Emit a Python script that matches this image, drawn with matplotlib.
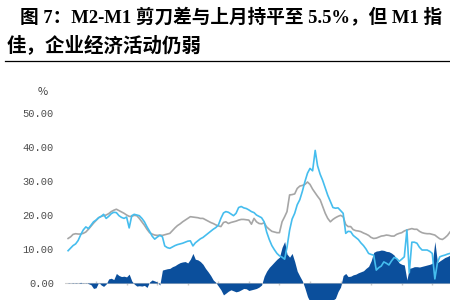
import matplotlib
matplotlib.use("Agg")
import matplotlib.pyplot as plt
import pandas as pd

# monthly, Jan 2002 onward (figure is cropped on the right)
months = pd.date_range("2002-01-01", periods=151, freq="MS")

m2_yoy = [
    13.1, 13.6, 14.3, 14.5, 14.4, 14.4, 14.6, 15.0, 15.8, 16.7,
    17.6, 18.4, 19.2, 19.6, 19.8, 20.0, 20.4, 21.0, 21.4, 21.7,
    21.3, 20.9, 20.5, 20.0, 19.6, 19.6, 19.9, 19.8, 19.0, 18.0,
    17.0, 15.8, 14.8, 14.4, 14.1, 14.0, 14.1, 14.0, 14.2, 14.4,
    14.6, 15.4, 16.2, 16.9, 17.4, 18.0, 18.5, 19.0, 19.5, 19.4,
    19.3, 19.2, 19.0, 19.0, 18.6, 18.2, 17.8, 17.5, 17.1, 16.8,
    16.6, 17.8, 18.0, 17.5, 17.8, 18.0, 18.2, 18.5, 18.7, 18.7,
    18.6, 18.5, 17.3, 19.0, 18.0, 17.5, 17.4, 17.7, 16.5, 15.8,
    15.2, 15.0, 14.8, 14.8, 18.0, 19.5, 21.0, 25.9, 26.0, 26.2,
    27.8, 28.5, 28.7, 29.0, 29.7, 29.0, 27.6, 26.5, 25.5, 24.5,
    22.5, 20.5, 19.0, 18.0, 18.7, 19.2, 19.6, 19.9, 19.5, 17.2,
    16.6, 16.6, 15.7, 15.4, 15.3, 15.1, 14.7, 14.4, 14.0, 13.4,
    13.1, 13.2, 13.5, 13.8, 13.9, 14.1, 14.0, 13.8, 13.8, 14.3,
    14.6, 14.8, 15.3, 15.6, 15.8, 16.0, 15.8, 15.8, 15.2, 14.8,
    14.6, 14.5, 14.5, 14.3, 14.1, 13.5, 13.0, 12.8, 13.3, 14.0,
    15.0,
]

m1_yoy = [
    9.5, 10.3, 11.0, 11.5, 12.5, 14.2, 15.6, 16.5, 16.0, 17.0,
    18.0, 18.5, 19.2, 19.6, 20.2, 19.0, 19.6, 20.4, 20.8, 20.7,
    19.8, 19.3, 19.0, 19.4, 16.2, 19.8, 20.2, 20.0, 19.8, 19.0,
    18.0, 16.5, 15.2, 13.8, 12.9, 13.5, 14.0, 13.6, 10.9, 10.4,
    10.2, 10.6, 11.0, 11.3, 11.5, 11.7, 12.0, 12.3, 12.4, 10.9,
    11.8, 12.4, 13.0, 13.4, 14.0, 14.6, 15.2, 15.8, 16.3, 17.0,
    19.0, 20.6, 21.0, 20.8, 20.3, 19.8, 20.5, 22.2, 22.5, 22.1,
    21.9, 21.5, 21.0, 20.7, 20.0, 19.6, 19.2, 18.0, 15.0, 12.8,
    11.0, 9.8, 8.7, 8.0, 7.6, 7.0, 10.5, 15.5, 18.8, 20.5,
    23.0, 24.5, 27.0, 29.8, 32.3, 33.7, 33.0, 39.0, 34.5, 32.0,
    30.2, 28.0, 25.8, 24.0, 22.2, 22.0, 22.1, 21.3, 20.5, 14.6,
    15.2, 15.1, 14.0, 13.4, 12.8, 11.8, 11.0, 10.0, 8.7, 8.4,
    8.2, 3.8, 4.5, 5.0, 6.2, 5.8, 5.3, 6.5, 7.5, 7.2,
    6.4, 7.0, 7.7, 15.6, 3.0, 12.0, 12.0, 11.7, 10.5, 9.7,
    9.7, 9.7, 9.3, 8.7, 1.2, 6.0, 7.7, 8.0, 8.2, 8.5,
    8.7,
]

scissors_gap = [
    0.1, 0.0, -0.1, 0.1, 0.0, 0.2, -0.1, 0.1, -0.2, -0.5,
    -1.6, -1.4, 0.2, -0.6, -1.0, -0.3, 1.2, 1.4, 1.0, 2.8,
    2.2, 1.9, 2.0, 1.8, 2.6, 0.6, -0.3, -0.9, -0.8, -0.9,
    -0.7, -1.3, 0.3, 0.9, 0.6, 0.3, -0.6, 3.8, 4.0, 4.2,
    4.3, 4.8, 5.1, 5.6, 6.0, 6.2, 6.3, 5.9, 7.0, 8.7,
    7.0, 6.8, 6.3, 5.5, 4.3, 3.3, 2.2, 0.9, 0.2, -0.9,
    -2.0, -3.5, -3.0, -2.4, -2.0, -2.3, -2.6, -2.4, -2.0, -1.6,
    -1.7, -2.2, -2.0, -1.8, -1.6, -1.2, -0.6, 2.0, 3.5, 4.6,
    5.4, 6.2, 7.0, 7.6, 10.5, 12.2, 8.5, 7.6, 8.7, 6.3,
    3.5, 2.0, 0.6, -1.5, -4.0, -5.5, -7.0, -13.0, -9.5, -8.0,
    -7.5, -7.5, -7.0, -6.0, -5.0, -4.5, -2.5, -1.2, 2.2, 2.8,
    1.9, 2.0, 2.4, 2.6, 3.0, 3.3, 3.6, 4.3, 4.9, 6.5,
    9.0, 9.4, 9.5, 9.7, 9.6, 9.3, 9.2, 8.8, 8.2, 7.0,
    5.9, 5.5, 5.3, 0.9, 4.3, 4.5, 4.8, 4.8, 4.7, 4.9,
    5.1, 5.3, 5.5, 5.8, 12.2, 6.0, 6.5, 7.0, 7.5, 7.8,
    8.2,
]

y_ticks = [0, 10, 20, 30, 40, 50]
title_line1 = "图 7：M2-M1 剪刀差与上月持平至 5.5%，但 M1 指"
title_line2 = "佳，企业经济活动仍弱"

FAMILY = ["Liberation Serif", "Noto Sans CJK SC", "DejaVu Sans"]
GRAY = "#a6a6a6"
LIGHT_BLUE = "#45bdee"
DARK_BLUE = "#0b4f9c"

fig = plt.figure(figsize=(4.5, 3.0), dpi=100)
fig.patch.set_facecolor("white")

fig.text(20 / 450, 1 - 17 / 300, title_line1, ha="left", va="center",
         fontsize=13.4, fontweight="bold", family=FAMILY)
fig.text(7 / 450, 1 - 45 / 300, title_line2, ha="left", va="center",
         fontsize=14, fontweight="bold", family=FAMILY)
fig.add_artist(plt.Line2D([5 / 450, 1.0], [1 - 60.5 / 300, 1 - 60.5 / 300],
                          color="black", linewidth=0.9))

ax = fig.add_axes([65 / 450, 0.0, 1 - 65 / 450, (300 - 106.2) / 300])

ax.fill_between(months, 0, scissors_gap, color=DARK_BLUE, linewidth=0, zorder=1)
ax.axhline(0, color="#d0d0d0", linewidth=0.8, zorder=0)
ax.plot(months, m2_yoy, color=GRAY, linewidth=1.2, zorder=2)
ax.plot(months, m1_yoy, color=LIGHT_BLUE, linewidth=1.2, zorder=3)

# small year marks on the zero line
year_marks = pd.date_range("2002-12-01", "2014-12-01", freq="12MS")
ax.plot(year_marks, [0] * len(year_marks), linestyle="none", marker="|",
        markersize=3, color="#c8c8c8", zorder=0)

ax.set_xlim(months[0] - pd.Timedelta(days=37), months[-1])
ax.set_ylim(-5, 52)
ax.set_yticks(y_ticks)
ax.set_yticklabels([f"{v:.2f}" for v in y_ticks], family="Liberation Mono")
ax.tick_params(axis="y", length=0, pad=8, labelsize=7.5, labelcolor="#4d4d4d")
ax.set_xticks([])
for spine in ax.spines.values():
    spine.set_visible(False)

fig.text(43 / 450, 1 - 92 / 300, "%", ha="center", va="center",
         fontsize=8, color="#404040", family=["Noto Sans CJK SC", "DejaVu Sans"])

fig.savefig("out.png", dpi=100)
